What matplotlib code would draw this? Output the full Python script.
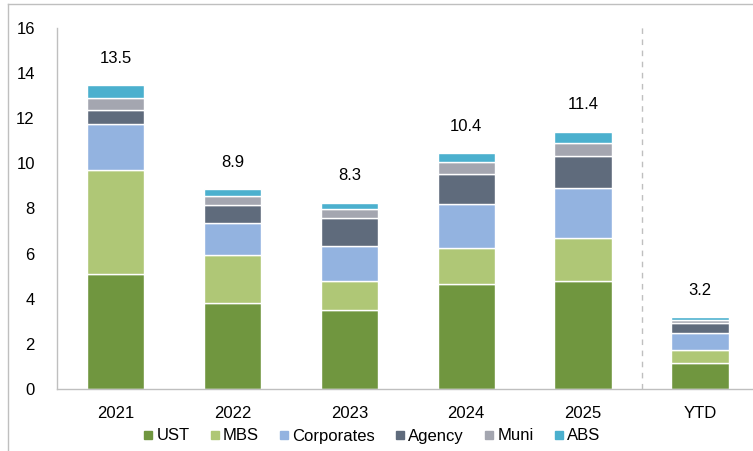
import matplotlib
matplotlib.use("Agg")
from matplotlib import pyplot as plt
from matplotlib.lines import Line2D
import numpy as np

plt.rcParams['font.family'] = ['Liberation Sans', 'DejaVu Sans']

categorias = ['2021', '2022', '2023', '2024', '2025', 'YTD']
ust = [5.1, 3.8, 3.5, 4.65, 4.8, 1.17]
mbs = [4.6, 2.15, 1.3, 1.6, 1.9, 0.56]
corporates = [2.05, 1.42, 1.52, 1.97, 2.2, 0.75]
agency = [0.63, 0.79, 1.28, 1.3, 1.42, 0.44]
muni = [0.5, 0.4, 0.4, 0.52, 0.58, 0.13]
abs_ = [0.58, 0.3, 0.25, 0.4, 0.5, 0.12]
totais = [13.5, 8.9, 8.3, 10.4, 11.4, 3.2]

series = [('UST', ust, '#70963F'),
          ('MBS', mbs, '#AFC776'),
          ('Corporates', corporates, '#93B3E0'),
          ('Agency', agency, '#5F6B7C'),
          ('Muni', muni, '#A4A6B0'),
          ('ABS', abs_, '#4BB0CE')]

fig = plt.figure(figsize=(7.53, 4.51), dpi=100)
ax = fig.add_axes([57/753, 1-389/451, 1-57/753, (389-28)/451])

x = np.arange(len(categorias))
base = np.zeros(len(categorias))
handles = []
for nome, vals, cor in series:
    ax.bar(x, vals, bottom=base, width=0.49, color=cor, edgecolor='white', linewidth=1)
    base += np.array(vals)
    handles.append(Line2D([], [], marker='s', linestyle='', color=cor, markersize=6, label=nome))

for xi, t, topo in zip(x, totais, base):
    ax.text(xi, topo + 1.2, f'{t:.1f}', ha='center', va='center', fontsize=12)

ax.axvline(4.5, ymin=0, ymax=(388-25)/(389-28), color='#BFBFBF', linestyle=(0, (4, 4)), linewidth=1)

ax.set_ylim(0, 16)
ax.set_xlim(-0.5, (753-115)/117)
ax.set_yticks(range(0, 17, 2))
ax.set_xticks(x)
ax.set_xticklabels(categorias)
ax.tick_params(length=0, labelsize=12, colors='black')
ax.tick_params(axis='y', pad=16)
ax.tick_params(axis='x', pad=12)
for s in ['top', 'right']:
    ax.spines[s].set_visible(False)
for s in ['left', 'bottom']:
    ax.spines[s].set_color('#BFBFBF')
    ax.spines[s].set_linewidth(1)

fig.legend(handles=handles, loc='center', bbox_to_anchor=(370/753, 1-436/451), ncol=6, frameon=False,
           fontsize=12, handletextpad=0.0, columnspacing=1.0, handlelength=1.0)

# moldura parcial (topo e esquerda)
fig.add_artist(Line2D([8/753, 1], [1-4/451, 1-4/451], color='#BFBFBF', linewidth=1))
fig.add_artist(Line2D([8/753, 8/753], [0, 1-4/451], color='#BFBFBF', linewidth=1))

fig.savefig('out.png', dpi=100)
